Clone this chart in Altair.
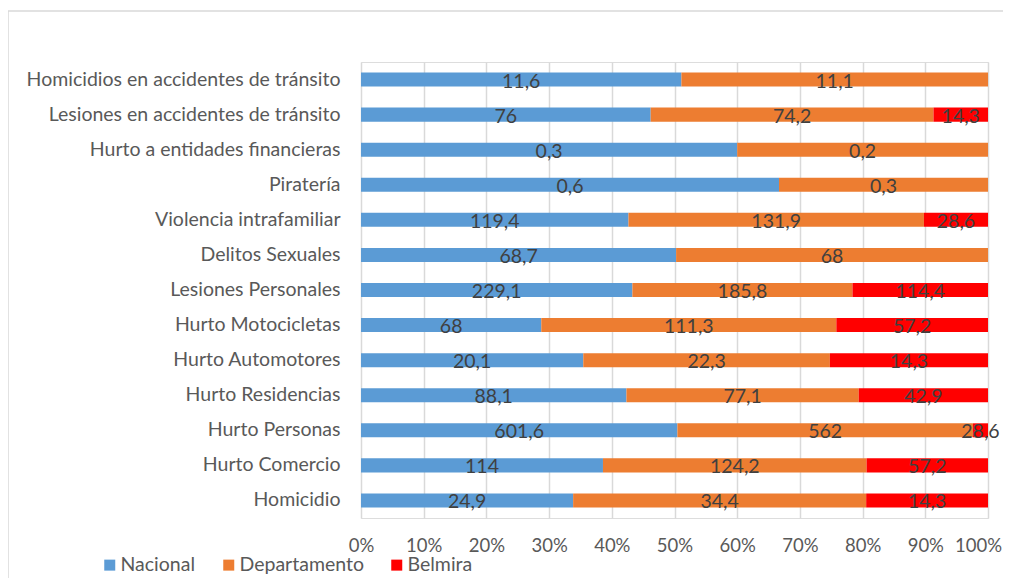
import altair as alt
import pandas as pd

categorias = [
    "Homicidios en accidentes de tránsito",
    "Lesiones en accidentes de tránsito",
    "Hurto a entidades financieras",
    "Piratería ",
    "Violencia intrafamiliar",
    "Delitos Sexuales",
    "Lesiones Personales",
    "Hurto Motocicletas ",
    "Hurto Automotores ",
    "Hurto Residencias",
    "Hurto Personas ",
    "Hurto Comercio",
    "Homicidio",
]
nacional = [11.6, 76, 0.3, 0.6, 119.4, 68.7, 229.1, 68, 20.1, 88.1, 601.6, 114, 24.9]
departamento = [11.1, 74.2, 0.2, 0.3, 131.9, 68, 185.8, 111.3, 22.3, 77.1, 562, 124.2, 34.4]
belmira = [0, 14.3, 0, 0, 28.6, 0, 114.4, 57.2, 14.3, 42.9, 28.6, 57.2, 14.3]

series = ["Nacional", "Departamento", "Belmira"]
colores = ["#5B9BD5", "#ED7D31", "#FF0000"]


def etiqueta(v):
    return ("%g" % v).replace(".", ",")


rows = []
for i, c in enumerate(categorias):
    for k, (s, vals) in enumerate(zip(series, [nacional, departamento, belmira])):
        v = vals[i]
        if v > 0:
            rows.append({"cat": c, "serie": s, "orden": k, "valor": v, "lab": etiqueta(v)})
df = pd.DataFrame(rows)

FONT = "Lato"
TXT = "#595959"

base = alt.Chart(df).transform_stack(
    stack="valor",
    groupby=["cat"],
    as_=["x0", "x1"],
    offset="normalize",
    sort=[alt.SortField("orden", order="ascending")],
).transform_calculate(mid="(datum.x0 + datum.x1) / 2")

y_enc = alt.Y(
    "cat:N",
    sort=categorias,
    scale=alt.Scale(paddingInner=0.6, paddingOuter=0.3),
    axis=alt.Axis(
        title=None, ticks=False, domain=False, labelPadding=21,
        labelFontSize=19.5, labelColor=TXT, labelFont=FONT, labelLimit=400,
    ),
)

bars = base.mark_bar().encode(
    x=alt.X(
        "x0:Q",
        scale=alt.Scale(domain=[0, 1], nice=False),
        axis=alt.Axis(
            title=None, format=".0%", values=[i / 10 for i in range(11)],
            ticks=False, domain=False, labelPadding=18, labelFontSize=18.5,
            labelColor=TXT, labelFont=FONT, gridColor="#d9d9d9", gridWidth=1.5,
            labelFlush=False,
            labelOffset={"condition": {"test": "datum.value == 1", "value": -10}, "value": 0},
        ),
    ),
    x2="x1:Q",
    y=y_enc,
    color=alt.Color(
        "serie:N",
        scale=alt.Scale(domain=series, range=colores),
        legend=alt.Legend(
            title=None, orient="none", legendX=-261, legendY=493,
            direction="horizontal", symbolType="square", symbolSize=121,
            symbolStrokeWidth=0, labelFontSize=19.5, labelColor=TXT,
            labelFont=FONT, columnPadding=23, labelOffset=1, padding=0,
        ),
    ),
)

texts = base.mark_text(
    fontSize=19.5, font=FONT, color="#404040", align="center", baseline="middle", dy=2
).encode(
    x=alt.X("mid:Q"),
    y=alt.Y("cat:N", sort=categorias),
    text="lab:N",
)

frame = alt.Chart(pd.DataFrame({"a": [0]})).mark_rect(
    fill=None, stroke="#d9d9d9", strokeWidth=1.5, clip=False
).encode(
    x=alt.value(-353), x2=alt.value(700), y=alt.value(-51), y2=alt.value(600)
)

chart = alt.layer(frame, bars, texts).properties(
    width=627,
    height=456,
    autosize=alt.AutoSizeParams(type="none"),
    padding={"left": 353, "top": 54, "right": 15, "bottom": 60},
).configure_view(stroke=None).configure(font=FONT)

chart.save("out.html", embed_options={"renderer": "svg", "actions": False})
